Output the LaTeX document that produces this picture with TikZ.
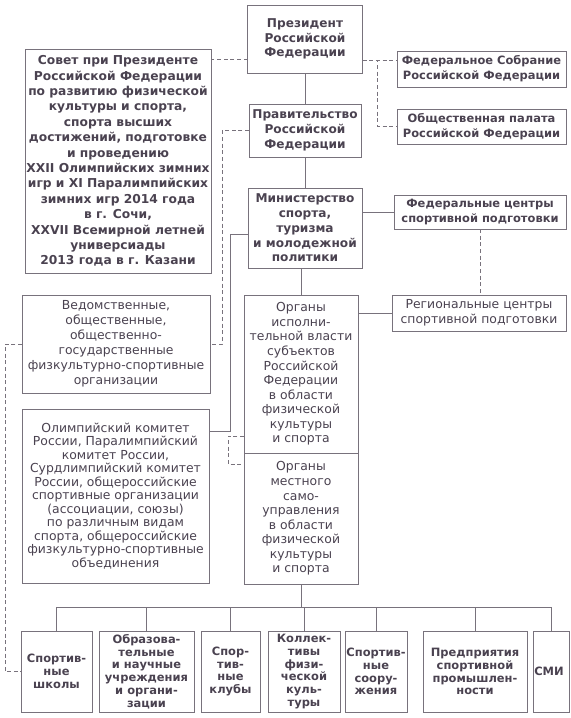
\documentclass[tikz,border=0pt]{standalone}
\usepackage{fontspec}
\setmainfont{DejaVu Sans}
\usetikzlibrary{
    calc,
    positioning
}
\definecolor{inkgray}{RGB}{74,66,80}
\definecolor{linegray}{RGB}{120,114,124}

\begin{document}
\begin{tikzpicture}[
    x=0.75pt,
    y=-0.75pt,
    unit/.style={
        rectangle,
        draw=linegray,
        line width=0.6pt,
        outer sep=0pt,
        inner sep=1pt,
        text=inkgray,
        align=center,
        font=\fontsize{9.3}{11.25}\selectfont
    },
    head/.style={
        unit,
        font=\fontsize{8.6}{11.25}\selectfont\bfseries
    },
    chief/.style={
        unit,
        font=\fontsize{9.1}{11.1}\selectfont\bfseries
    },
    leaf/.style={
        unit,
        minimum height=60.75pt,
        font=\fontsize{8.6}{9.6}\selectfont\bfseries
    },
    link/.style={
        draw=linegray,
        line width=0.6pt
    },
    weak/.style={
        link,
        dash pattern=on 3pt off 2pt
    }
]

\useasboundingbox (0,0) rectangle (571,718);

% state bodies

\node[chief, minimum width=86.25pt, minimum height=51pt] (president) at (305,39) {
    Президент\\
    Российской\\
    Федерации
};

\node[chief, minimum width=84pt, minimum height=39.75pt] (pravitelstvo) at (305,130.5) {
    Правительство\\
    Российской\\
    Федерации
};

\node[chief, minimum width=85.5pt, minimum height=60pt] (ministerstvo) at (305,228) {
    Министерство\\
    спорта,\\
    туризма\\
    и молодежной\\
    политики
};

\node[chief, minimum width=139.5pt, minimum height=168pt,
      font=\fontsize{9.2}{11.55}\selectfont\bfseries] (sovet) at (118,161) {
    Совет при Президенте\\
    Российской Федерации\\
    по развитию физической\\
    культуры и спорта,\\
    спорта высших\\
    достижений, подготовке\\
    и проведению\\
    XXII Олимпийских зимних\\
    игр и XI Паралимпийских\\
    зимних игр 2014 года\\
    в г. Сочи,\\
    XXVII Всемирной летней\\
    универсиады\\
    2013 года в г. Казани
};

\node[head, minimum width=126.75pt, minimum height=27pt] (fedsobr) at (481.5,69) {
    Федеральное Собрание\\
    Российской Федерации
};

\node[head, minimum width=126.75pt, minimum height=26.25pt] (palata) at (481.5,126.5) {
    Общественная палата\\
    Российской Федерации
};

\node[head, minimum width=129pt, minimum height=25.5pt] (fedcentr) at (480,212) {
    Федеральные центры\\
    спортивной подготовки
};

\node[unit, minimum width=130.5pt, minimum height=27pt] (regcentr) at (479,313) {
    Региональные центры\\
    спортивной подготовки
};

% regional and local bodies

\node[unit, minimum width=85.5pt, minimum height=118.5pt,
      font=\fontsize{9.3}{10.9}\selectfont] (ispoln) at (301,374) {
    Органы\\
    исполни-\\
    тельной власти\\
    субъектов\\
    Российской\\
    Федерации\\
    в области\\
    физической\\
    культуры\\
    и спорта
};

\node[unit, minimum width=85.5pt, minimum height=98.25pt,
      font=\fontsize{9.3}{10.9}\selectfont, below=0pt of ispoln] (mestn) {
    Органы\\
    местного\\
    само-\\
    управления\\
    в области\\
    физической\\
    культуры\\
    и спорта
};

% public organisations

\node[unit, minimum width=141pt, minimum height=73.5pt] (vedom) at (116,344) {
    Ведомственные,\\
    общественные,\\
    общественно-\\
    государственные\\
    физкультурно-спортивные\\
    организации
};

\node[unit, minimum width=140.25pt, minimum height=130.5pt,
      font=\fontsize{9.3}{10.1}\selectfont] (olymp) at (115.5,496) {
    Олимпийский комитет\\
    России, Паралимпийский\\
    комитет России,\\
    Сурдлимпийский комитет\\
    России, общероссийские\\
    спортивные организации\\
    (ассоциации, союзы)\\
    по различным видам\\
    спорта, общероссийские\\
    физкультурно-спортивные\\
    объединения
};

% bottom row

\node[leaf, minimum width=53.25pt] (shkoly) at (56.5,671.5) {
    Спортив-\\
    ные\\
    школы
};

\node[leaf, minimum width=71.25pt] (obraz) at (146.5,671.5) {
    Образова-\\
    тельные\\
    и научные\\
    учреждения\\
    и органи-\\
    зации
};

\node[leaf, minimum width=44.25pt] (kluby) at (230.5,671.5) {
    Спор-\\
    тив-\\
    ные\\
    клубы
};

\node[leaf, minimum width=54pt] (kollektivy) at (304,671.5) {
    Коллек-\\
    тивы\\
    физи-\\
    ческой\\
    куль-\\
    туры
};

\node[leaf, minimum width=46.5pt] (sooruzh) at (376,671.5) {
    Спортив-\\
    ные\\
    соору-\\
    жения
};

\node[leaf, minimum width=78pt] (predpr) at (475,671.5) {
    Предприятия\\
    спортивной\\
    промышлен-\\
    ности
};

\node[leaf, minimum width=27pt] (smi) at (551,671.5) {
    СМИ
};

% main chain

\draw[link]
    (president) --
    (pravitelstvo);

\draw[link]
    (pravitelstvo) --
    (ministerstvo);

\draw[link]
    (ministerstvo.south -| ispoln.north) --
    (ispoln.north);

% president and its councils

\draw[weak]
    (president.west |- 0,59) --
    (sovet.east |- 0,59);

\draw[weak]
    (president.east |- 0,60) --
    (fedsobr.west |- 0,60);

\draw[weak]
    (president.east |- 0,60)
    -- ++(15,0)
    |- (palata.west);

% government and public organisations

\draw[weak]
    (pravitelstvo.west)
    -- ++(-27,0)
    |- (vedom.east);

% ministry

\draw[link]
    (ministerstvo.west |- 0,234)
    -- ++(-18,0)
    |- ($(olymp.north east)!0.13!(olymp.south east)$);

\draw[link]
    (fedcentr.west) --
    (fedcentr.west -| ministerstvo.east);

\draw[weak]
    (fedcentr.south) --
    (fedcentr.south |- regcentr.north);

\draw[link]
    (regcentr.west) --
    (regcentr.west -| ispoln.east);

% regional and local bodies

\draw[weak]
    ($(ispoln.south west)+(0,-17)$)
    -- ++(-16,0)
    |- ($(mestn.north west)+(0,11)$);

\draw[weak]
    (vedom.west)
    -- ++(-17,0)
    |- (shkoly.west);

% bottom row

\draw[link]
    (mestn.south)
    -- ++(0,23)
    coordinate (bus);

\draw[link]
    (bus -| shkoly.north) --
    (bus -| smi.north);

\draw[link] (bus -| shkoly.north) -- (shkoly.north);
\draw[link] (bus -| obraz.north) -- (obraz.north);
\draw[link] (bus -| kluby.north) -- (kluby.north);
\draw[link] (bus -| kollektivy.north) -- (kollektivy.north);
\draw[link] (bus -| sooruzh.north) -- (sooruzh.north);
\draw[link] (bus -| predpr.north) -- (predpr.north);
\draw[link] (bus -| smi.north) -- (smi.north);

\end{tikzpicture}
\end{document}
